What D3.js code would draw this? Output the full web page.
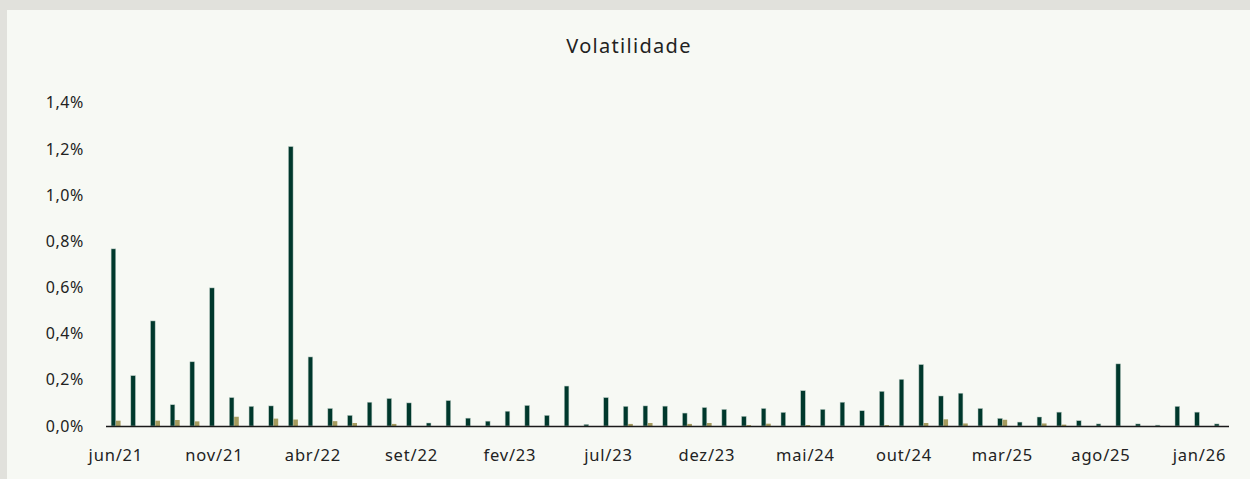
<!DOCTYPE html>
<html>
<head>
<meta charset="utf-8">
<script src="https://cdn.jsdelivr.net/npm/d3@7"></script>
<style>
  html, body { margin: 0; padding: 0; background: #e1e1dc; }
  svg { display: block; }
</style>
</head>
<body>
<svg id="chart" width="1250" height="479"></svg>
<script>
const months = ["jun/21","jul/21","ago/21","set/21","out/21","nov/21","dez/21","jan/22","fev/22","mar/22",
  "abr/22","mai/22","jun/22","jul/22","ago/22","set/22","out/22","nov/22","dez/22","jan/23",
  "fev/23","mar/23","abr/23","mai/23","jun/23","jul/23","ago/23","set/23","out/23","nov/23",
  "dez/23","jan/24","fev/24","mar/24","abr/24","mai/24","jun/24","jul/24","ago/24","set/24",
  "out/24","nov/24","dez/24","jan/25","fev/25","mar/25","abr/25","mai/25","jun/25","jul/25",
  "ago/25","set/25","out/25","nov/25","dez/25","jan/26","fev/26"];

// Series A (dark green), % values
const seriesA = [0.767,0.218,0.455,0.092,0.278,0.598,0.123,0.085,0.087,1.21,
  0.299,0.076,0.046,0.103,0.119,0.100,0.013,0.110,0.034,0.021,
  0.064,0.089,0.046,0.173,0.007,0.123,0.085,0.087,0.086,0.056,
  0.080,0.072,0.042,0.076,0.059,0.153,0.072,0.103,0.066,0.150,
  0.202,0.266,0.130,0.142,0.076,0.033,0.017,0.039,0.060,0.023,
  0.009,0.269,0.009,0.004,0.085,0.060,0.009];

// Series B (tan), % values
const seriesB = [0.023,0,0.023,0.026,0.020,0,0.040,0,0.032,0.028,
  0,0.021,0.013,0,0.009,0,0,0,0,0,
  0,0,0,0,0,0,0.009,0.013,0,0.009,
  0.013,0,0.004,0.010,0,0.004,0,0,0,0.004,
  0,0.013,0.029,0.011,0,0.027,0,0.011,0.006,0,
  0,0,0,0,0,0,0];

const yTicks = [0,0.2,0.4,0.6,0.8,1.0,1.2,1.4];
const xTickLabels = ["jun/21","nov/21","abr/22","set/22","fev/23","jul/23","dez/23","mai/24","out/24","mar/25","ago/25","jan/26"];
const titleText = "Volatilidade";

const svg = d3.select("#chart");
const W = 1250, H = 479;
const font = "'Noto Sans', sans-serif";

// panel
svg.append("rect").attr("x", 7).attr("y", 10).attr("width", W - 7).attr("height", H - 10).attr("fill", "#f7f9f4");

const x0 = 106, x1 = 1229, yBase = 426, yTop = 102.7;

const x = d3.scaleBand().domain(months).range([x0, x1]).paddingInner(0.5).paddingOuter(0.25);
const xs = d3.scaleBand().domain(["A","B"]).range([0, x.bandwidth()]).padding(0.04);
const y = d3.scaleLinear().domain([0, 1.4]).range([yBase, yTop]);

// title
svg.append("text").attr("x", 629).attr("y", 53).attr("text-anchor", "middle")
  .attr("font-family", font).attr("font-size", 20).attr("letter-spacing", 1.3)
  .attr("fill", "#222").text(titleText);

// bars
const g = svg.append("g");
g.selectAll("rect.a").data(months).join("rect").attr("class", "a")
  .attr("x", d => x(d) + xs("A"))
  .attr("width", xs.bandwidth())
  .attr("y", (d, i) => y(seriesA[i]))
  .attr("height", (d, i) => yBase - y(seriesA[i]))
  .attr("fill", "#00382c")
  .attr("stroke", "#b9cbc4").attr("stroke-width", 0.5);

g.selectAll("rect.b").data(months).join("rect").attr("class", "b")
  .attr("x", d => x(d) + xs("B"))
  .attr("width", xs.bandwidth())
  .attr("y", (d, i) => y(seriesB[i]))
  .attr("height", (d, i) => yBase - y(seriesB[i]))
  .attr("fill", "#a59b5e");

// y axis
const yAxis = d3.axisLeft(y).tickValues(yTicks).tickSize(0).tickPadding(0)
  .tickFormat(d => d.toFixed(1).replace(".", ",") + "%");
const ya = svg.append("g").attr("transform", `translate(84,0)`).call(yAxis);
ya.select(".domain").remove();
ya.selectAll("text").attr("font-family", font).attr("font-size", 16).attr("fill", "#222").attr("letter-spacing", 0.6);

// x axis
const xAxis = d3.axisBottom(x).tickValues(xTickLabels).tickSize(0).tickPadding(23);
const xa = svg.append("g").attr("transform", `translate(0,${yBase})`).call(xAxis);
xa.select(".domain").remove();
xa.selectAll("text").attr("font-family", font).attr("font-size", 16.5).attr("fill", "#222").attr("letter-spacing", 0.8);

// baseline
svg.append("line").attr("x1", x0).attr("x2", x1).attr("y1", yBase + 0.5).attr("y2", yBase + 0.5)
  .attr("stroke", "#1a1a1a").attr("stroke-width", 1.5);
</script>
</body>
</html>
